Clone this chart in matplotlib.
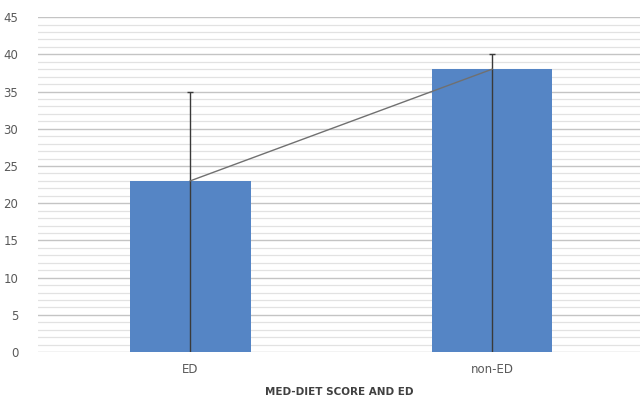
import numpy as np
import matplotlib.pyplot as plt
from matplotlib.ticker import MultipleLocator

# data
categories = ['ED', 'non-ED']
means = [23, 38]
upper = [35, 40]

x = np.arange(len(categories))

fig = plt.figure(figsize=(6.4, 3.97), dpi=100)
ax = fig.add_axes([0.059, 0.113, 0.941, 0.844])

ax.bar(x, means, width=0.4, color='#5585c5', zorder=2)
# error line runs from the baseline up to the upper value, cap only on top
ax.vlines(x, 0, upper, color='#3a3a3a', linewidth=1.0, zorder=3)
ax.plot(x, upper, linestyle='none', marker='_', markersize=5, color='#3a3a3a',
        markeredgewidth=1.0, zorder=3)
ax.plot(x, means, color='#707070', linewidth=1.0, zorder=4)

ax.set_xlim(-0.505, 1.49)
ax.set_ylim(0, 45)
ax.yaxis.set_major_locator(MultipleLocator(5))
ax.yaxis.set_minor_locator(MultipleLocator(1))
ax.grid(axis='y', which='major', color='#c4c4c4', linewidth=1.0, zorder=0)
ax.grid(axis='y', which='minor', color='#e2e2e2', linewidth=0.9, zorder=0)
ax.set_axisbelow(True)

for s in ax.spines.values():
    s.set_visible(False)
ax.tick_params(axis='both', which='both', length=0, colors='#595959', labelsize=8.5)
ax.tick_params(axis='y', pad=14)
ax.tick_params(axis='x', pad=8)
ax.set_xticks(x)
ax.set_xticklabels(categories)
ax.set_xlabel('MED-DIET SCORE AND ED', fontsize=7.5, fontweight='bold', color='#404040', labelpad=8)

fig.savefig('out.png', dpi=100)
